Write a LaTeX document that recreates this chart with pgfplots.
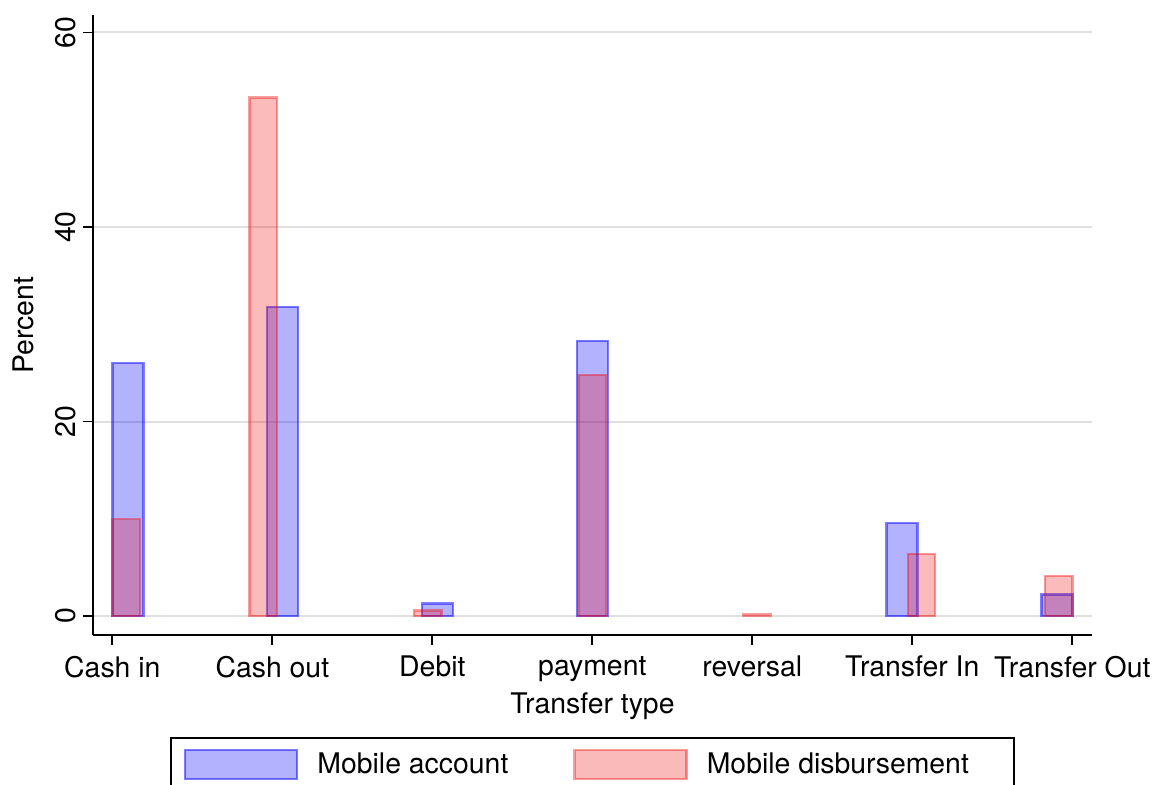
\documentclass[border=0pt]{standalone}
\usepackage{fontspec}
\setmainfont{TeX Gyre Heros}
\usepackage{pgfplots}
\pgfplotsset{compat=1.18}
\definecolor{sblue}{RGB}{0,0,255}
\definecolor{sred}{RGB}{240,10,10}
\definecolor{gridc}{RGB}{224,224,224}
\newcommand{\ff}{\fontsize{14.2}{17}\selectfont}
\begin{document}
\begin{tikzpicture}
\begin{axis}[
  scale only axis, width=499.5pt, height=310pt,
  at={(0,0)}, anchor=south west,
  xmin=0.879, xmax=7.123, ymin=-1.95, ymax=61.8,
  axis x line*=bottom, axis y line*=left,
  axis line style={-, line width=0.9pt, black},
  xtick={1,...,7},
  xticklabels={Cash in, Cash out, Debit, payment, reversal, Transfer In, Transfer Out},
  ytick={0,20,40,60},
  tick align=outside, major tick length=5pt,
  tick style={black, line width=0.9pt},
  ymajorgrids, grid style={gridc, line width=1pt},
  every tick label/.append style={font=\ff},
  /pgf/number format/assume math mode=true,
  yticklabel style={rotate=90, anchor=south},
  xticklabel style={yshift=-2pt},
  label style={font=\ff},
  xlabel={Transfer type}, ylabel={Percent},
  ylabel shift=4pt, xlabel shift=-1pt,
  legend columns=2,
  legend style={at={(0.5,-0.1645)}, anchor=north, draw=black, line width=0.8pt, font=\ff,
    inner xsep=6.5pt, inner ysep=5.5pt, nodes={inner sep=0pt},
    /tikz/every odd column/.append style={column sep=9.5pt},
    /tikz/every even column/.append style={column sep=32.5pt}},
]
\addplot[ybar, bar width=0.193548, bar shift=0pt, fill=sblue, fill opacity=0.3, draw=sblue, draw opacity=0.5, line width=1.2pt,
  legend image code/.code={\draw[fill=sblue, fill opacity=0.3, draw=sblue, draw opacity=0.5, line width=1.2pt] (0pt,-7.25pt) rectangle (56pt,7.25pt);}]
  coordinates {(1.096774,26.0) (2.064516,31.8) (3.032258,1.27) (4.0,28.3) (5.935484,9.54) (6.903226,2.23)};
\addlegendentry{Mobile account}
\addplot[ybar, bar width=0.171429, bar shift=0pt, fill=sred, fill opacity=0.28, draw=sred, draw opacity=0.4, line width=1.2pt,
  legend image code/.code={\draw[fill=sred, fill opacity=0.28, draw=sred, draw opacity=0.4, line width=1.2pt] (0pt,-7.25pt) rectangle (56pt,7.25pt);}]
  coordinates {(1.085714,9.95) (1.942857,53.3) (2.971429,0.55) (4.0,24.8) (5.028571,0.15) (6.057143,6.38) (6.914286,4.12)};
\addlegendentry{Mobile disbursement\hspace*{16pt}}
\end{axis}
\pgfresetboundingbox
\useasboundingbox (-46.5pt,-75pt) rectangle (532.5pt,317.5pt);
\end{tikzpicture}
\end{document}
